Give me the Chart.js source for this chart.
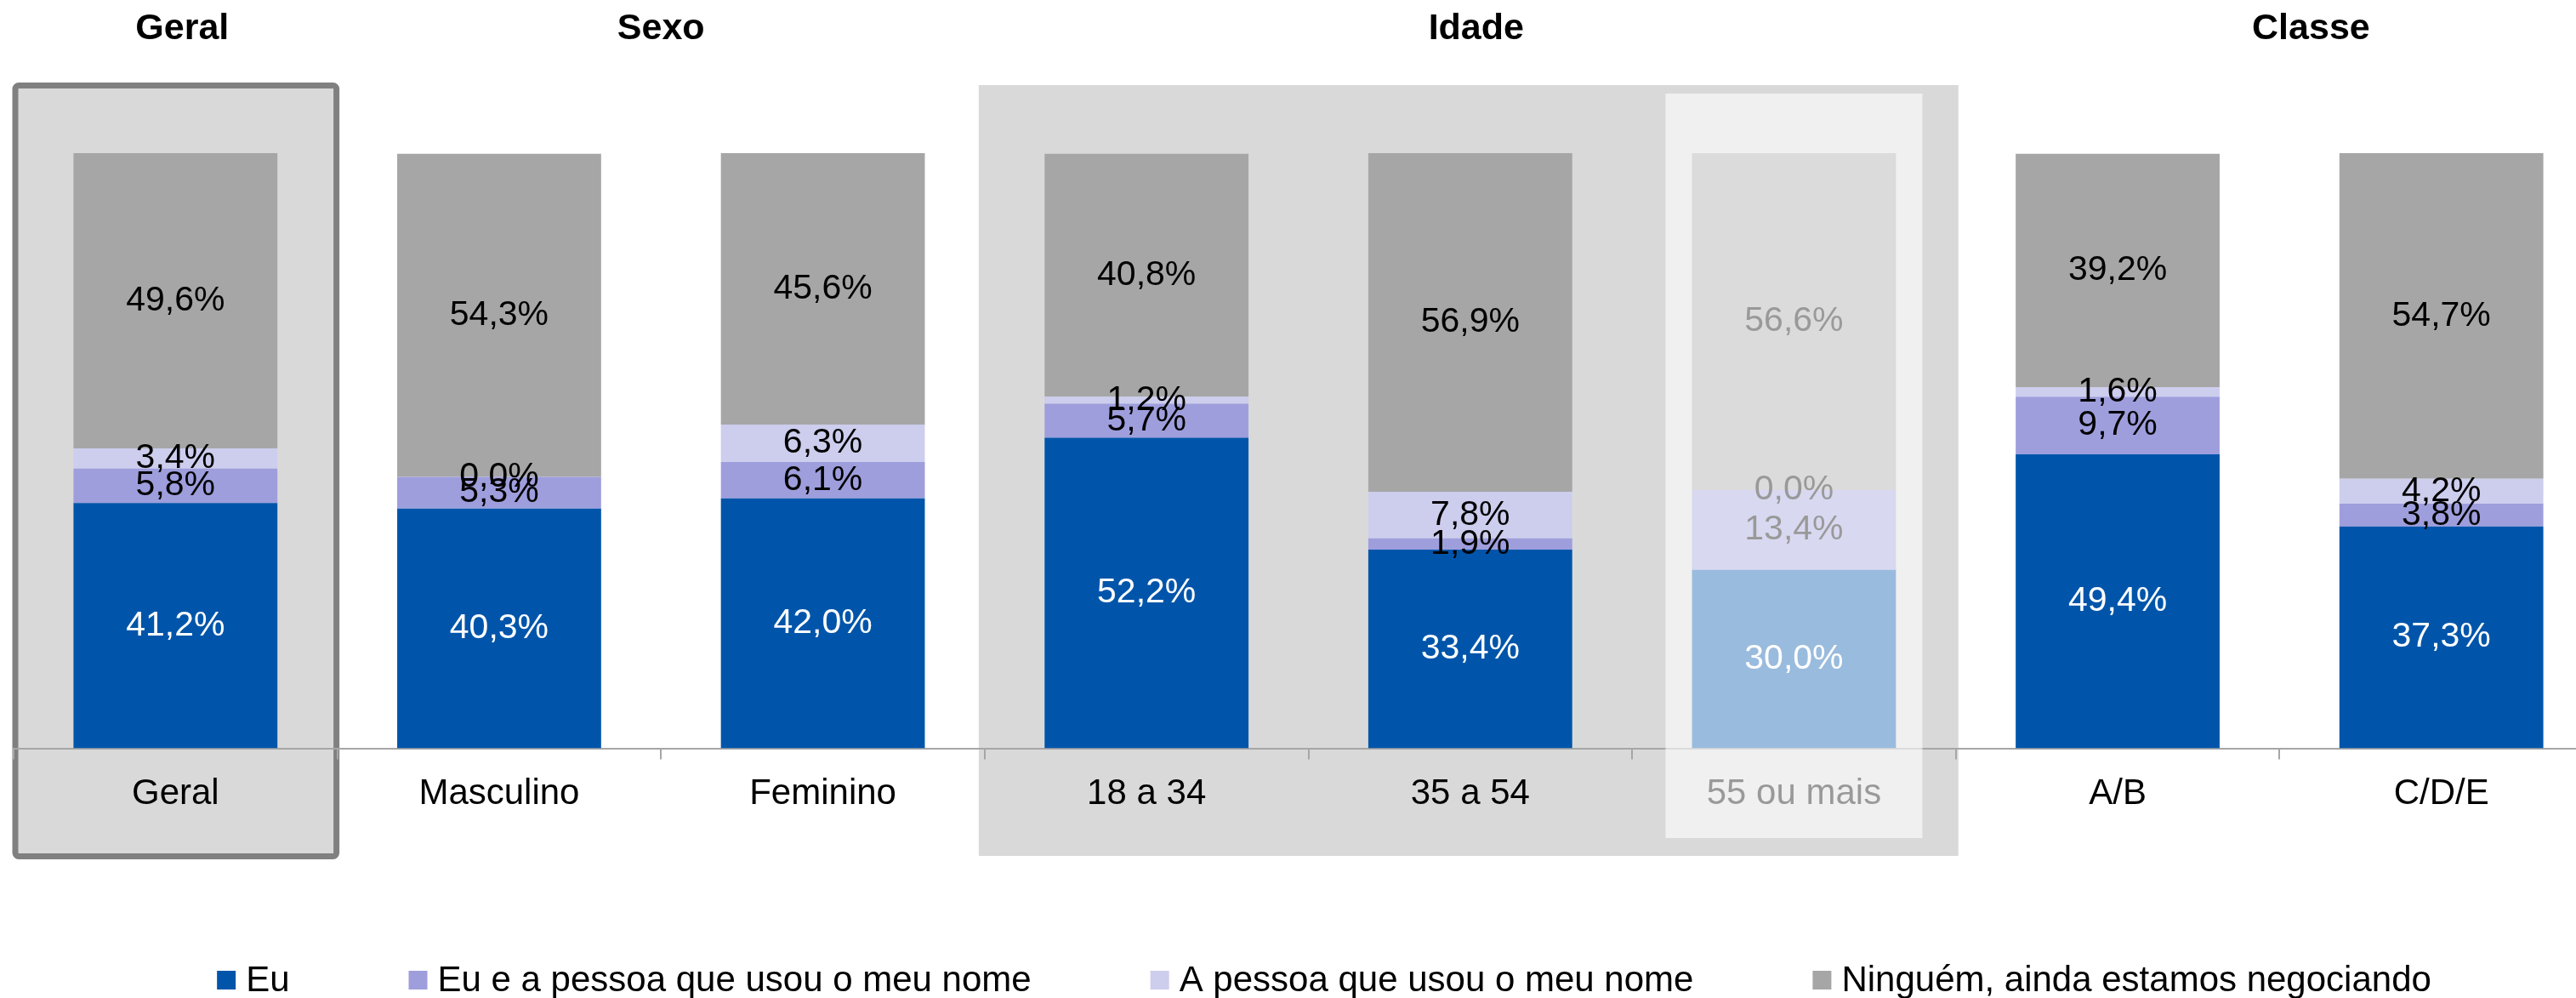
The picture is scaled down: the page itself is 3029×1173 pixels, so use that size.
<!DOCTYPE html>
<html lang="pt-BR">
<head>
<meta charset="utf-8">
<title>Quem ficou com a dívida</title>
<script src="https://cdn.jsdelivr.net/npm/chart.js@4.4.1/dist/chart.umd.min.js"></script>
<style>
  html, body { margin: 0; padding: 0; background: #fff; overflow: hidden; }
  canvas { display: block; }
</style>
</head>
<body>
<canvas id="grafico" width="3080" height="1173"></canvas>
<script>
// Categorias e séries (valores em %)
const categorias = ['Geral', 'Masculino', 'Feminino', '18 a 34', '35 a 54', '55 ou mais', 'A/B', 'C/D/E'];
const eu = [41.2, 40.3, 42.0, 52.2, 33.4, 30.0, 49.4, 37.3];
const euEPessoa = [5.8, 5.3, 6.1, 5.7, 1.9, 13.4, 9.7, 3.8];
const pessoa = [3.4, 0.0, 6.3, 1.2, 7.8, 0.0, 1.6, 4.2];
const ninguem = [49.6, 54.3, 45.6, 40.8, 56.9, 56.6, 39.2, 54.7];

const nomesSeries = ['Eu', 'Eu e a pessoa que usou o meu nome', 'A pessoa que usou o meu nome', 'Ninguém, ainda estamos negociando'];
const cores = ['#0055AA', '#9E9EDD', '#CDCDEE', '#A6A6A6'];
const corTexto = ['#FFFFFF', '#000000', '#000000', '#000000'];

// Cabeçalhos dos grupos (categoria inicial e final de cada um)
const grupos = ['Geral', 'Sexo', 'Idade', 'Classe'];
const grupoInicio = [0, 1, 3, 6];
const grupoFim = [0, 2, 5, 7];

const categoriaApagada = 5; // "55 ou mais" aparece esmaecida

const fonte = '"Liberation Sans", Arial, sans-serif';

function formata(v) {
    return v.toFixed(1).replace('.', ',') + '%';
}

// Caixas cinzas por trás do gráfico
const fundos = {
    id: 'fundos',
    beforeDraw(chart) {
        const ctx = chart.ctx;
        const x = chart.scales.x;
        const passo = x.getPixelForValue(1) - x.getPixelForValue(0);
        ctx.save();
        ctx.fillStyle = '#D9D9D9';

        // faixa Idade
        const i0 = x.getPixelForValue(3) - passo / 2 - 7;
        const i1 = x.getPixelForValue(5) + passo / 2 + 3;
        ctx.fillRect(i0, 100, i1 - i0, 906);

        // caixa Geral com borda
        const g0 = x.getPixelForValue(0) - passo / 2;
        ctx.strokeStyle = '#808080';
        ctx.lineWidth = 7;
        ctx.beginPath();
        ctx.roundRect(g0 + 2, 100.5, passo - 3, 906, 4);
        ctx.fill();
        ctx.stroke();
        ctx.restore();
    }
};

// Rótulos de valor no meio de cada segmento
const rotulos = {
    id: 'rotulos',
    afterDatasetsDraw(chart) {
        const ctx = chart.ctx;
        ctx.save();
        ctx.font = '41px ' + fonte;
        ctx.textAlign = 'center';
        ctx.textBaseline = 'middle';
        chart.data.datasets.forEach((ds, i) => {
            chart.getDatasetMeta(i).data.forEach((bar, j) => {
                ctx.fillStyle = corTexto[i];
                ctx.fillText(formata(ds.data[j]), bar.x, (bar.y + bar.base) / 2);
            });
        });
        ctx.restore();
    }
};

// Véu branco, cabeçalhos e legenda
const extras = {
    id: 'extras',
    afterDraw(chart) {
        const ctx = chart.ctx;
        const x = chart.scales.x;
        const passo = x.getPixelForValue(1) - x.getPixelForValue(0);
        ctx.save();

        // véu sobre "55 ou mais"
        const cx = x.getPixelForValue(categoriaApagada);
        ctx.fillStyle = 'rgba(255,255,255,0.6)';
        ctx.fillRect(cx - 151, 110, 302, 875);

        // cabeçalhos
        ctx.fillStyle = '#000';
        ctx.font = 'bold 43px ' + fonte;
        ctx.textAlign = 'center';
        ctx.textBaseline = 'middle';
        const ajuste = [8, 0, 7, 37];
        grupos.forEach((g, k) => {
            const a = x.getPixelForValue(grupoInicio[k]);
            const b = x.getPixelForValue(grupoFim[k]);
            ctx.fillText(g, (a + b) / 2 + ajuste[k], 34);
        });

        // legenda
        ctx.font = '42px ' + fonte;
        ctx.textAlign = 'left';
        const caixa = 22, folga = 12, espaco = 140;
        const larguras = nomesSeries.map(n => ctx.measureText(n).width);
        let total = larguras.reduce((s, w) => s + caixa + folga + w, 0) + espaco * (nomesSeries.length - 1);
        let px = 1557 - total / 2;
        const yLeg = 1152;
        nomesSeries.forEach((n, k) => {
            ctx.fillStyle = cores[k];
            ctx.fillRect(px, yLeg - caixa / 2, caixa, caixa);
            ctx.fillStyle = '#000';
            ctx.fillText(n, px + caixa + folga, yLeg + 1);
            px += caixa + folga + larguras[k] + espaco;
        });
        ctx.restore();
    }
};

const series = [eu, euEPessoa, pessoa, ninguem];

const data = {
    labels: categorias,
    datasets: series.map((valores, i) => ({
        label: nomesSeries[i],
        data: valores,
        backgroundColor: cores[i],
        borderWidth: 0,
        barPercentage: 0.63,
        categoryPercentage: 1.0
    }))
};

const config = {
    type: 'bar',
    data: data,
    options: {
        responsive: false,
        animation: false,
        layout: { padding: { top: 180, left: 16, right: 19, bottom: 198 } },
        plugins: {
            legend: { display: false },
            tooltip: { enabled: false }
        },
        scales: {
            x: {
                stacked: true,
                grid: {
                    display: true,
                    drawOnChartArea: false,
                    offset: true,
                    tickLength: 13,
                    color: '#A6A6A6',
                    lineWidth: 2
                },
                border: { color: '#A6A6A6', width: 2 },
                ticks: {
                    color: '#000',
                    padding: 16,
                    font: { size: 42, family: fonte }
                }
            },
            y: {
                stacked: true,
                display: false,
                min: 0,
                max: 100
            }
        }
    },
    plugins: [fundos, rotulos, extras]
};

new Chart(document.getElementById('grafico'), config);
</script>
</body>
</html>
